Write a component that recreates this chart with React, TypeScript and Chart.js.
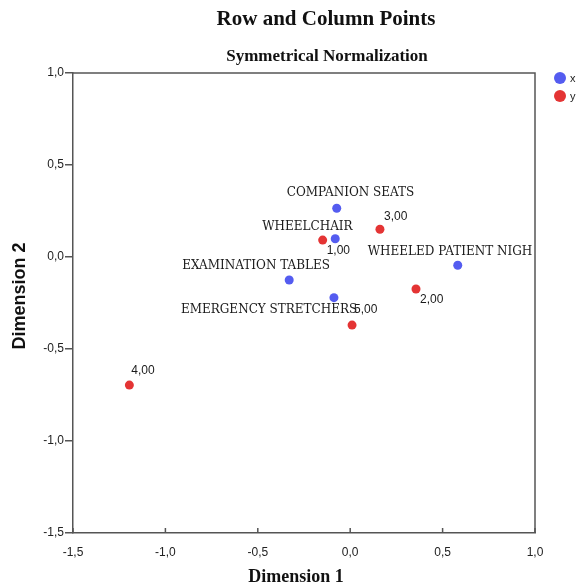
import React, { useEffect, useRef } from "react";
import { Chart, registerables } from "chart.js";

Chart.register(...registerables);

const rowLabels = ["COMPANION SEATS", "WHEELCHAIR", "EXAMINATION TABLES", "EMERGENCY STRETCHERS", "WHEELED PATIENT NIGH"];
const rowDim1 = [-0.073, -0.081, -0.33, -0.088, 0.582];
const rowDim2 = [0.265, 0.099, -0.125, -0.221, -0.045];

const colLabels = ["1,00", "2,00", "3,00", "4,00", "5,00"];
const colDim1 = [-0.149, 0.356, 0.161, -1.195, 0.01];
const colDim2 = [0.092, -0.174, 0.151, -0.696, -0.37];

const axisMin = -1.5;
const axisMax = 1.0;
const tickStep = 0.5;

const titleText = "Row and Column Points";
const subtitleText = "Symmetrical Normalization";
const xTitle = "Dimension 1";
const yTitle = "Dimension 2";

// label offsets in pixels (style only)
const rowOffsets = [[-50, -15], [-73, -12], [-107, -14], [-153, 12], [-90, -13]];
const colOffsets = [[4, 11], [4, 11], [4, -13], [2, -14], [2, -15]];

const BLUE = "rgb(84,92,240)";
const RED = "rgb(228,52,52)";
const AXIS = "#555";

const fmt = (v: number) => {
  const s = (Math.round(v * 10) / 10).toFixed(1);
  return (s === "-0.0" ? "0.0" : s).replace(".", ",");
};

const decorPlugin = {
  id: "decor",
  afterDraw(chart: any) {
    const { ctx, chartArea } = chart;
    const { left, right, top, bottom } = chartArea;
    ctx.save();
    ctx.strokeStyle = AXIS;
    ctx.lineWidth = 1.5;
    ctx.beginPath();
    ctx.moveTo(left, top);
    ctx.lineTo(right, top);
    ctx.lineTo(right, bottom);
    ctx.stroke();

    const xs = chart.scales.x;
    ctx.beginPath();
    xs.ticks.forEach((t: any) => {
      const px = xs.getPixelForValue(t.value);
      ctx.moveTo(px, bottom);
      ctx.lineTo(px, bottom - 5);
    });
    ctx.stroke();

    ctx.fillStyle = "#111";
    ctx.textAlign = "center";
    ctx.textBaseline = "middle";
    ctx.font = "bold 21px 'Liberation Serif'";
    ctx.fillText(titleText, 326, 20);
    ctx.font = "bold 17px 'Liberation Serif'";
    ctx.fillText(subtitleText, 327, 57);
    ctx.font = "bold 18px 'Liberation Serif'";
    ctx.fillText(xTitle, 296, 577);
    ctx.save();
    ctx.translate(20, 296);
    ctx.rotate(-Math.PI / 2);
    ctx.font = "bold 18px 'Liberation Sans'";
    ctx.fillText(yTitle, 0, 0);
    ctx.restore();

    chart.data.datasets.forEach((ds: any, i: number) => {
      const cy = 78 + i * 18;
      ctx.fillStyle = ds.backgroundColor;
      ctx.beginPath();
      ctx.arc(560, cy, 6, 0, Math.PI * 2);
      ctx.fill();
      ctx.fillStyle = "#222";
      ctx.textAlign = "left";
      ctx.font = "11px 'Liberation Sans'";
      ctx.fillText(ds.label, 570, cy + 1);
    });

    chart.data.datasets.forEach((ds: any, di: number) => {
      const meta = chart.getDatasetMeta(di);
      const labels = di === 0 ? rowLabels : colLabels;
      const offs = di === 0 ? rowOffsets : colOffsets;
      ctx.font = di === 0 ? "12px 'DejaVu Serif'" : "12px 'Liberation Sans'";
      ctx.fillStyle = "#1a1a1a";
      ctx.textAlign = "left";
      ctx.textBaseline = "middle";
      meta.data.forEach((pt: any, i: number) => {
        ctx.fillText(labels[i], pt.x + offs[i][0], pt.y + offs[i][1]);
      });
    });
    ctx.restore();
  },
};

export default function App() {
  const ref = useRef<HTMLCanvasElement | null>(null);
  useEffect(() => {
    document.body.style.margin = "0";
    const canvas = ref.current!;
    const chart = new Chart(canvas, {
      type: "scatter",
      data: {
        datasets: [
          {
            label: "x",
            data: rowDim1.map((v, i) => ({ x: v, y: rowDim2[i] })),
            backgroundColor: BLUE,
            borderColor: BLUE,
            pointRadius: 4.5,
            borderWidth: 0,
          },
          {
            label: "y",
            data: colDim1.map((v, i) => ({ x: v, y: colDim2[i] })),
            backgroundColor: RED,
            borderColor: RED,
            pointRadius: 4.5,
            borderWidth: 0,
          },
        ],
      },
      options: {
        animation: false,
        responsive: false,
        maintainAspectRatio: false,
        layout: { padding: { top: 73, right: 42, left: 0, bottom: 0 } },
        plugins: {
          legend: { display: false },
          title: { display: false },
          tooltip: { enabled: false },
        },
        scales: {
          x: {
            type: "linear",
            min: axisMin,
            max: axisMax,
            afterFit: (s: any) => { s.height = 55; },
            ticks: {
              stepSize: tickStep,
              callback: (v: any) => fmt(Number(v)),
              font: { family: "'Liberation Sans'", size: 12 },
              color: "#222",
              padding: 12,
              maxRotation: 0,
            },
            grid: { drawOnChartArea: false, drawTicks: false },
            border: { display: true, color: AXIS, width: 1.5 },
          },
          y: {
            type: "linear",
            min: axisMin,
            max: axisMax,
            afterFit: (s: any) => { s.width = 73; },
            ticks: {
              stepSize: tickStep,
              callback: (v: any) => fmt(Number(v)),
              font: { family: "'Liberation Sans'", size: 12 },
              color: "#222",
              padding: 1,
            },
            grid: { drawOnChartArea: false, drawTicks: true, tickLength: 8, color: AXIS, lineWidth: 1.5 },
            border: { display: true, color: AXIS, width: 1.5 },
          },
        },
      },
      plugins: [decorPlugin],
    } as any);
    return () => chart.destroy();
  }, []);
  return (
    <div style={{ width: 577, height: 588, background: "#fff" }}>
      <canvas ref={ref} width={577} height={588} style={{ display: "block" }} />
    </div>
  );
}
